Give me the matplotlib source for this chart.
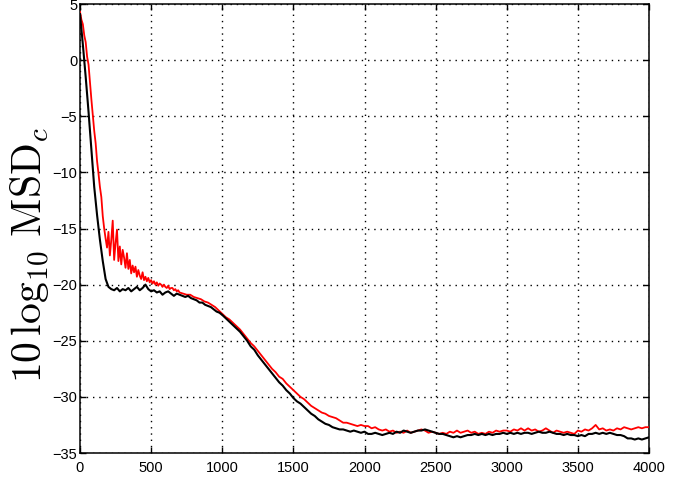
import matplotlib
matplotlib.use("Agg")
import matplotlib.pyplot as plt
import numpy as np

# red curve (noisy)
red_it_a = np.arange(0, 701, 10)
red_db_a = [4.3, 3.6, 3.2, 2.2, 1.6, 0.3, -0.4, -2.0, -3.5, -4.9,
            -6.3, -7.4, -9.0, -10.1, -11.3, -12.2, -13.9, -15.0, -15.9, -16.7,
            -15.3, -17.4, -16.0, -14.3, -17.8, -16.3, -15.1, -17.9, -16.6, -18.2,
            -16.9, -17.6, -18.5, -17.2, -18.6, -17.8, -19.0, -18.3, -18.9, -18.4,
            -19.3, -18.7, -19.2, -19.5, -18.9, -19.6, -19.3, -19.7, -19.4, -19.8,
            -19.6, -19.9, -19.7, -20.0, -19.8, -20.1, -19.9, -20.0, -20.2, -20.0,
            -20.2, -20.3, -20.1, -20.4, -20.3, -20.3, -20.5, -20.4, -20.6, -20.5,
            -20.7]
red_it_b = np.arange(725, 4001, 25)
red_db_b = [-20.8, -20.9, -20.9, -21.1, -21.2, -21.3, -21.5, -21.6, -21.8, -22.0,
            -22.3, -22.6, -22.9, -23.1, -23.4, -23.7, -24.0, -24.4, -24.8, -25.2,
            -25.5, -25.9, -26.3, -26.7, -27.1, -27.5, -27.8, -28.2, -28.4, -28.8,
            -29.1, -29.4, -29.7, -30.0, -30.2, -30.5, -30.8, -31.0, -31.2, -31.4,
            -31.5, -31.7, -31.8, -31.9, -32.1, -32.3, -32.3, -32.4, -32.5, -32.6,
            -32.5, -32.6, -32.6, -32.8, -32.7, -32.9, -33.0, -32.9, -33.1, -33.0,
            -33.2, -33.1, -33.2, -33.0, -33.2, -33.1, -33.0, -32.9, -33.0, -33.2,
            -33.1, -33.2, -33.3, -33.2, -33.3, -33.1, -33.2, -33.0, -33.2, -33.1,
            -33.0, -33.2, -33.1, -33.3, -33.2, -33.3, -33.1, -33.2, -33.0, -33.1,
            -33.0, -33.0, -33.1, -32.9, -33.0, -32.8, -33.0, -32.8, -33.0, -32.9,
            -33.1, -33.0, -32.8, -33.0, -33.2, -33.0, -33.1, -33.2, -33.1, -33.2,
            -33.3, -33.0, -33.1, -32.9, -33.0, -32.8, -32.5, -32.9, -32.8, -33.0,
            -32.9, -33.0, -32.8, -32.9, -32.7, -32.8, -32.9, -32.8, -32.7, -32.8,
            -32.7, -32.7]

# black curve
blk_it_a = np.arange(0, 1001, 20)
blk_db_a = [4.1, 1.4, -1.5, -4.6, -8.0, -11.3, -13.8, -16.0, -17.9, -19.5,
            -20.2, -20.4, -20.5, -20.3, -20.6, -20.4, -20.5, -20.3, -20.6, -20.4,
            -20.2, -20.5, -20.3, -20.0, -20.4, -20.6, -20.5, -20.7, -20.6, -20.9,
            -20.7, -20.6, -20.8, -21.0, -20.8, -20.9, -21.0, -21.1, -21.0, -21.2,
            -21.3, -21.4, -21.6, -21.6, -21.8, -21.9, -22.0, -22.2, -22.4, -22.5,
            -22.7]
blk_it_b = np.arange(1025, 4001, 25)
blk_db_b = [-23.0, -23.3, -23.6, -23.9, -24.2, -24.6, -25.0, -25.5, -25.8, -26.3,
            -26.7, -27.1, -27.5, -27.9, -28.3, -28.7, -29.0, -29.4, -29.7, -30.1,
            -30.4, -30.6, -30.9, -31.2, -31.5, -31.7, -32.0, -32.2, -32.4, -32.5,
            -32.7, -32.8, -32.9, -32.9, -33.0, -33.1, -33.0, -33.1, -33.2, -33.1,
            -33.3, -33.3, -33.2, -33.3, -33.4, -33.3, -33.2, -33.3, -33.1, -33.2,
            -33.0, -33.1, -33.2, -33.1, -33.0, -33.0, -32.9, -33.0, -33.1, -33.2,
            -33.3, -33.3, -33.4, -33.5, -33.6, -33.5, -33.6, -33.5, -33.4, -33.4,
            -33.3, -33.4, -33.3, -33.4, -33.3, -33.4, -33.3, -33.3, -33.2, -33.3,
            -33.2, -33.3, -33.2, -33.3, -33.2, -33.2, -33.3, -33.2, -33.1, -33.2,
            -33.2, -33.1, -33.2, -33.3, -33.3, -33.4, -33.3, -33.4, -33.4, -33.5,
            -33.4, -33.5, -33.3, -33.3, -33.2, -33.3, -33.2, -33.3, -33.2, -33.3,
            -33.4, -33.4, -33.5, -33.7, -33.7, -33.8, -33.7, -33.8, -33.7, -33.6]

x_ticks = [0, 500, 1000, 1500, 2000, 2500, 3000, 3500, 4000]
y_ticks = [-35, -30, -25, -20, -15, -10, -5, 0, 5]

plt.rcParams['font.family'] = ['Liberation Sans', 'DejaVu Sans']
plt.rcParams['mathtext.fontset'] = 'cm'

fig = plt.figure(figsize=(6.9, 4.86), dpi=100)
ax = fig.add_axes([80 / 690, 33 / 486, 569 / 690, 449 / 486])

red_it = np.concatenate([red_it_a, red_it_b])
red_db = np.array(red_db_a + red_db_b)
blk_it = np.concatenate([blk_it_a, blk_it_b])
blk_db = np.array(blk_db_a + blk_db_b)

ax.plot(red_it, red_db, color='#ff0000', lw=1.3, zorder=3)
ax.plot(blk_it, blk_db, color='black', lw=1.5, zorder=4)

ax.set_xlim(0, 4000)
ax.set_ylim(-35, 5)
ax.set_xticks(x_ticks)
ax.set_yticks(y_ticks)
ax.grid(True, color='black', linestyle=(0, (1, 3.5)), lw=1.0)
ax.tick_params(direction='in', top=True, right=True, length=4.5, width=1.0,
               labelsize=10.5)
ax.tick_params(axis='x', pad=6)
ax.tick_params(axis='y', pad=2)
for s in ax.spines.values():
    s.set_linewidth(1.1)

fig.text(0.043, 0.475, r'$10\,\log_{10}\,\mathrm{MSD}_c$', rotation=90,
         ha='center', va='center', fontsize=30)

plt.savefig('out.png', dpi=100)
